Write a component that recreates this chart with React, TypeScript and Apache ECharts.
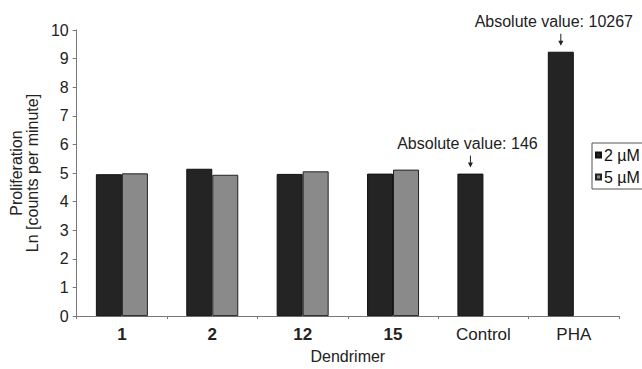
import React, { useEffect, useRef } from "react";
import * as echarts from "echarts";

const categories = ["1", "2", "12", "15", "Control", "PHA"];
const boldCategories = ["1", "2", "12", "15"];
const series2uM = [4.96, 5.15, 4.97, 4.98, 4.98, 9.24];
const series5uM: (number | string)[] = [4.99, 4.94, 5.06, 5.12, "-", "-"];
const seriesNames = ["2 µM", "5 µM"];
const annotations = [
  { category: "Control", text: "Absolute value: 146" },
  { category: "PHA", text: "Absolute value: 10267" },
];
const yTicks = { min: 0, max: 10, interval: 1 };

const FONT = "'Liberation Sans', Arial, sans-serif";

export default function App() {
  const ref = useRef<HTMLDivElement>(null);
  useEffect(() => {
    document.body.style.margin = "0";
    if (!ref.current) return;
    const chart = echarts.init(ref.current, undefined, { renderer: "svg" });
    const option: any = {
      animation: false,
      backgroundColor: "#ffffff",
      textStyle: { fontFamily: FONT },
      grid: { left: 71, right: 23, top: 30, bottom: 45, containLabel: false },
      legend: {
        orient: "vertical",
        left: 592,
        top: 143,
        icon: "rect",
        itemWidth: 5,
        itemHeight: 5,
        itemGap: 6,
        padding: [4, 6, 4, 3],
        borderColor: "#555",
        borderWidth: 1,
        textStyle: { fontFamily: FONT, fontSize: 16, color: "#111", padding: [0, 0, 0, -2] },
        data: seriesNames,
      },
      xAxis: {
        type: "category",
        data: categories.map((c) => ({
          value: c,
          textStyle: { fontWeight: boldCategories.includes(c) ? "bold" : "normal" },
        })),
        name: "Dendrimer",
        nameLocation: "middle",
        nameGap: 29,
        nameTextStyle: { fontFamily: FONT, fontSize: 16, color: "#222", verticalAlign: "top" },
        axisLine: { lineStyle: { color: "#777", width: 1 } },
        axisTick: { show: true, inside: false, length: 3, alignWithLabel: false, lineStyle: { color: "#777" } },
        axisLabel: { fontFamily: FONT, fontSize: 17, color: "#222", margin: 10 },
        splitLine: { show: false },
      },
      yAxis: {
        type: "value",
        min: yTicks.min,
        max: yTicks.max,
        interval: yTicks.interval,
        name: "Proliferation\nLn [counts per minute]",
        nameLocation: "middle",
        nameGap: 30,
        nameRotate: 90,
        nameTextStyle: { fontFamily: FONT, fontSize: 16, color: "#222", lineHeight: 16 },
        axisLine: { show: true, lineStyle: { color: "#777", width: 1 } },
        axisTick: { show: true, inside: false, length: 4, lineStyle: { color: "#777" } },
        axisLabel: { fontFamily: FONT, fontSize: 16, color: "#222", margin: 8 },
        splitLine: { show: false },
      },
      series: [
        {
          name: seriesNames[0],
          type: "bar",
          data: series2uM,
          barWidth: 26,
          barGap: "0%",
          itemStyle: { color: "#242424", borderColor: "#111", borderWidth: 1 },
        },
        {
          name: seriesNames[1],
          type: "bar",
          data: series5uM,
          barWidth: 26,
          barGap: "0%",
          itemStyle: { color: "#8a8a8a", borderColor: "#222", borderWidth: 1 },
        },
      ],
    };
    chart.setOption(option);

    const textDx = [-3, -7];
    const data = (chart as any).getModel().getSeriesByIndex(0).getData();
    const graphics: any[] = [];
    annotations.forEach((a, i) => {
      const idx = categories.indexOf(a.category);
      const lay = data.getItemLayout(idx);
      if (!lay) return;
      const cx = lay.x + lay.width / 2;
      const top = Math.min(lay.y, lay.y + lay.height);
      graphics.push({
        type: "text",
        x: cx + textDx[i],
        y: top - 30,
        style: {
          text: a.text,
          fontFamily: FONT,
          fontSize: 16,
          fill: "#222",
          align: "center",
          verticalAlign: "middle",
        },
      });
      graphics.push({
        type: "line",
        shape: { x1: cx, y1: top - 18, x2: cx, y2: top - 10 },
        style: { stroke: "#222", lineWidth: 1 },
      });
      graphics.push({
        type: "polygon",
        shape: { points: [[cx - 2.5, top - 11], [cx + 2.5, top - 11], [cx, top - 6]] },
        style: { fill: "#222" },
      });
    });
    chart.setOption({ graphic: graphics });

    return () => chart.dispose();
  }, []);
  return <div ref={ref} style={{ width: 642, height: 369 }} />;
}
